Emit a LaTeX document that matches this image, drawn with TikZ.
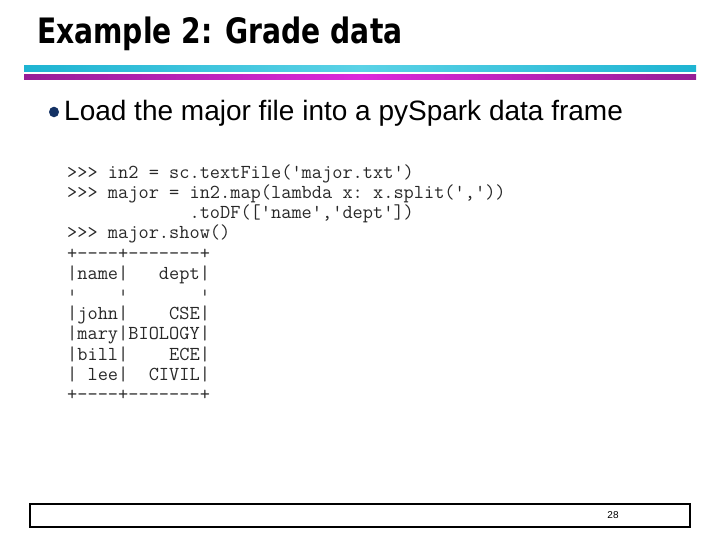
\documentclass[tikz,border=0pt]{standalone}
\usepackage{fontspec}
\setmainfont{Liberation Sans}
\newfontfamily\headfont{DejaVu Sans}
\usetikzlibrary{positioning}
\definecolor{barcyan}{RGB}{30,180,210}
\definecolor{barcyanlight}{RGB}{90,210,230}
\definecolor{barpurple}{RGB}{150,30,150}
\definecolor{barmagenta}{RGB}{220,40,220}
\definecolor{bulletblue}{RGB}{20,50,100}
\definecolor{codegray}{RGB}{40,40,40}
\begin{document}
\begin{tikzpicture}[x=1pt,y=-1pt,
    title/.style={anchor=base west,inner sep=0pt,font=\headfont\fontsize{35}{40}\selectfont\bfseries},
    bullettext/.style={anchor=base west,inner sep=0pt,font=\fontsize{28}{32}\selectfont},
    codeline/.style={anchor=base west,inner sep=0pt,text=codegray,font=\ttfamily\fontsize{19.8}{22}\selectfont},
    footer/.style={draw=black,line width=2pt}]
    \useasboundingbox (0,0) rectangle (720,540);
    % heading
    \node[title] (head) at (37,44) {\scalebox{0.805}[1]{Example 2: Grade data}};
    \shade[left color=barcyan,right color=barcyan,middle color=barcyanlight] (24,66) rectangle (696,72);
    \shade[left color=barpurple,right color=barpurple,middle color=barmagenta] (24,75) rectangle (696,80);
    % bullet
    \fill[bulletblue] (54,112) ellipse (5 and 5.3);
    \node[bullettext] (point) at (64,121) {Load the major file into a pySpark data frame};
    % code
    \foreach \txt [count=\i] in {
        {>>>\ in2\ =\ sc.textFile('major.txt')},
        {>>>\ major\ =\ in2.map(lambda\ x:\ x.split(','))},
        {\ \ \ \ \ \ \ \ \ \ \ \ .toDF(['name','dept'])},
        {>>>\ major.show()},
        {+----+-------+},
        {|name|\ \ \ dept|},
        {\raisebox{4pt}{\scalebox{1}[0.4]{|\ \ \ \ |\ \ \ \ \ \ \ |}}},
        {|john|\ \ \ \ CSE|},
        {|mary|BIOLOGY|},
        {|bill|\ \ \ \ ECE|},
        {|\ lee|\ \ CIVIL|},
        {+----+-------+}}
        \node[codeline] (code\i) at (67,158+20.2*\i) {\txt};
    % footer
    \draw[footer] (30,504) rectangle (690,527);
    \node[inner sep=0pt,font=\fontsize{10}{12}\selectfont] (page) at (613,515) {28};
\end{tikzpicture}
\end{document}
